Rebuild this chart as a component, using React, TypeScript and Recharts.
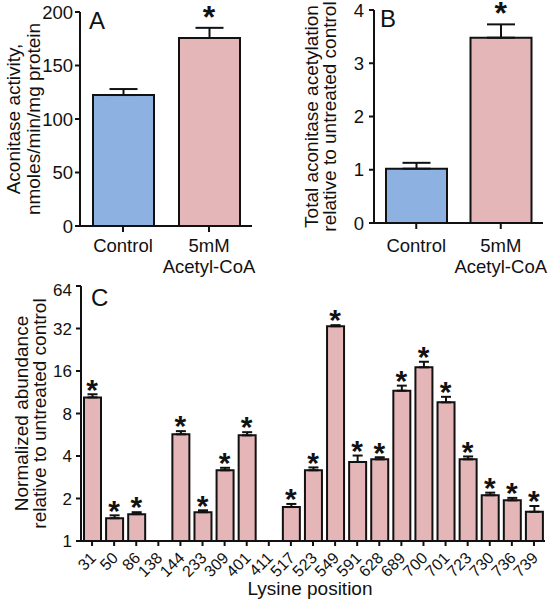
import React from "react";
import {
  ComposedChart, Bar, Line, Cell, XAxis, YAxis, ErrorBar, LabelList, Label,
} from "recharts";

// panel A / B
const groupLabels = ["Control", "5mM\nAcetyl-CoA"];
const groupColors = ["#8DB1E1", "#E5B6B8"];
const groupSig = [false, true];
const activity = [122.4, 175.7];
const activityErr = [5.6, 9.5];
const acetylation = [1.02, 3.48];
const acetylationErr = [0.11, 0.25];
const activityTicks = [0, 50, 100, 150, 200];
const acetylationTicks = [0, 1, 2, 3, 4];

// panel C
const lysines = [
  "31", "50", "86", "138", "144", "233", "309", "401", "411", "517", "523",
  "549", "591", "628", "689", "700", "701", "723", "730", "736", "739",
];
const abundance = [
  10.4, 1.45, 1.55, null, 5.7, 1.6, 3.17, 5.6, null, 1.74, 3.17,
  33.2, 3.63, 3.79, 11.6, 17.0, 9.6, 3.79, 2.11, 1.94, 1.61,
];
const abundanceErr = [
  0.55, 0.07, 0.05, null, 0.3, 0.05, 0.13, 0.3, null, 0.09, 0.15,
  0.6, 0.4, 0.13, 1.0, 1.6, 0.9, 0.18, 0.09, 0.08, 0.16,
];
const abundanceTicks = [1, 2, 4, 8, 16, 32, 64];

const PINK = "#E5B6B8";
const INK = "#111";
const FONT = '"Liberation Sans", Arial, Helvetica, sans-serif';

const groupData = (vals: number[], errs: number[]) =>
  groupLabels.map((name, i) => ({
    name,
    value: vals[i],
    err: [0, errs[i]],
    top: groupSig[i] ? vals[i] + errs[i] : null,
  }));

const dataA = groupData(activity, activityErr);
const dataB = groupData(acetylation, acetylationErr);
const dataC = lysines.map((name, i) => ({
  name,
  value: abundance[i],
  err: abundanceErr[i] == null ? null : [0, abundanceErr[i]],
  top: abundance[i] == null ? null : (abundance[i] as number) + (abundanceErr[i] as number),
}));

const axisLine = { stroke: INK, strokeWidth: 2 };

// asterisk centred `gap` px above the error bar cap
const star = (gap: number, size: number) => (p: any) =>
  p.value == null ? null : (
    <text x={p.x} y={p.y - gap + size * 0.42} textAnchor="middle" fontSize={size}
      fontWeight="bold" fill={INK}>*</text>
  );

const yLabel = (lines: string[], xs: number[]) => (p: any) => {
  const vb = p.viewBox || {};
  const cy = (vb.y ?? 0) + (vb.height ?? 0) / 2;
  return (
    <g>
      {lines.map((t, i) => (
        <text key={i} x={xs[i]} y={cy} transform={`rotate(-90 ${xs[i]} ${cy})`}
          textAnchor="middle" fontSize={19} fill={INK}>{t}</text>
      ))}
    </g>
  );
};

const xLabel = (text: string, baseline: number) => (p: any) => {
  const vb = p.viewBox || {};
  return (
    <text x={(vb.x ?? 0) + (vb.width ?? 0) / 2 - 3} y={baseline} textAnchor="middle"
      fontSize={19} fill={INK}>{text}</text>
  );
};

const multiTick = (first: number) => (p: any) => (
  <text x={p.x} y={p.y} textAnchor="middle" fontSize={18.5} fill={INK}>
    {String(p.payload.value).split("\n").map((s, i) => (
      <tspan key={i} x={p.x} dy={i === 0 ? first : 21}>{s}</tspan>
    ))}
  </text>
);

const RotTick = (p: any) => (
  <g transform={`translate(${p.x + 5},${p.y + 11})`}>
    <text textAnchor="end" transform="rotate(-45)" fontSize={16} fill={INK}>{p.payload.value}</text>
  </g>
);

function GroupChart({ data, width, margin, yWidth, xHeight, ticks, tickMargin, first, labelLines, labelXs, gap }: any) {
  return (
    <ComposedChart width={width} height={280} data={data} margin={margin}>
      <XAxis dataKey="name" height={xHeight} axisLine={axisLine} tickLine={axisLine}
        tickSize={6} tick={multiTick(first)} interval={0} />
      <YAxis type="number" domain={[ticks[0], ticks[ticks.length - 1]]} ticks={ticks}
        width={yWidth} axisLine={axisLine} tickLine={axisLine} tickSize={5} tickMargin={tickMargin}
        tick={{ fill: INK, fontSize: 18.5 }}>
        <Label content={yLabel(labelLines, labelXs)} />
      </YAxis>
      <Bar dataKey="value" barSize={61} stroke={INK} strokeWidth={2} isAnimationActive={false}>
        {data.map((_: any, i: number) => <Cell key={i} fill={groupColors[i]} />)}
        <ErrorBar dataKey="err" width={14} strokeWidth={2} stroke={INK} direction="y" />
      </Bar>
      <Line dataKey="top" stroke="none" dot={false} activeDot={false} legendType="none" isAnimationActive={false}>
        <LabelList dataKey="top" content={star(gap, 32)} />
      </Line>
    </ComposedChart>
  );
}

export default function App() {
  return (
    <div style={{ position: "absolute", left: 0, top: 0, width: 550, height: 600, background: "#fff", fontFamily: FONT }}>
      <div style={{ position: "absolute", left: 0, top: 0 }}>
        <GroupChart data={dataA} width={262} margin={{ top: 12, right: 10, left: 0, bottom: 0 }}
          yWidth={80} xHeight={54} ticks={activityTicks} tickMargin={2} first={18}
          labelLines={["Aconitase activity,", "nmoles/min/mg protein"]} labelXs={[20, 40]} gap={13} />
      </div>
      <div style={{ position: "absolute", left: 275, top: 0 }}>
        <GroupChart data={dataB} width={275} margin={{ top: 10, right: 7, left: 0, bottom: 0 }}
          yWidth={99} xHeight={57} ticks={acetylationTicks} tickMargin={5} first={21}
          labelLines={["Total aconitase acetylation", "relative to untreated control"]} labelXs={[43, 61]} gap={14} />
      </div>
      <div style={{ position: "absolute", left: 0, top: 280 }}>
        <ComposedChart width={550} height={320} data={dataC} margin={{ top: 6, right: 5, left: 0, bottom: 0 }}>
          <XAxis dataKey="name" height={59} axisLine={axisLine} tickLine={axisLine} tickSize={5}
            tick={<RotTick />} interval={0}>
            <Label content={xLabel("Lysine position", 315)} />
          </XAxis>
          <YAxis type="number" scale="log" domain={[1, 64]} ticks={abundanceTicks} width={81}
            axisLine={axisLine} tickLine={axisLine} tickSize={5} tickMargin={4}
            tick={{ fill: INK, fontSize: 17 }}>
            <Label content={yLabel(["Normalized abundance", "relative to untreated control"], [28, 46])} />
          </YAxis>
          <Bar dataKey="value" barSize={17} fill={PINK} stroke={INK} strokeWidth={2} isAnimationActive={false}>
            <ErrorBar dataKey="err" width={5} strokeWidth={2} stroke={INK} direction="y" />
          </Bar>
          <Line dataKey="top" stroke="none" dot={false} activeDot={false} legendType="none" isAnimationActive={false}>
            <LabelList dataKey="top" content={star(7.3, 30)} />
          </Line>
        </ComposedChart>
      </div>
      <svg width={550} height={600} style={{ position: "absolute", left: 0, top: 0, pointerEvents: "none" }}>
        <text x={89} y={29} fontSize={24} fill={INK}>A</text>
        <text x={380} y={27} fontSize={24} fill={INK}>B</text>
        <text x={91} y={306} fontSize={24} fill={INK}>C</text>
      </svg>
    </div>
  );
}
